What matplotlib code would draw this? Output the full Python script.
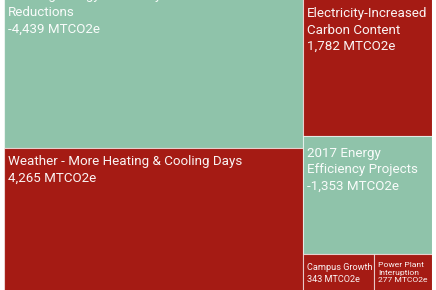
import matplotlib.pyplot as plt
from matplotlib.patches import Rectangle

plt.rcParams['font.family'] = ['Roboto', 'DejaVu Sans']

# === DATOS ===
labels = [
    "Building Energy Efficiency\nReductions",
    "Weather - More Heating & Cooling Days",
    "Electricity-Increased\nCarbon Content",
    "2017 Energy\nEfficiency Projects",
    "Campus Growth",
    "Power Plant\nInteruption",
]
values = [-4439, 4265, 1782, -1353, 343, 277]
# columnas del treemap (indices), la ultima fila de la derecha va en horizontal
columns = [[0, 1], [2, 3, (4, 5)]]

GREEN = "#8fc3aa"
RED = "#a51b14"

# estilo de cada etiqueta: tamano (pt), desplazamiento (px) desde la esquina
font_sizes = [9.6, 9.6, 9.6, 9.6, 6.6, 6.1]
offsets = [(3.5, -8.5), (4, -7.5), (4, -26), (3.5, -10.5), (3.5, -8.5), (4, -8)]
line_sp = [1.36, 1.36, 1.36, 1.36, 1.45, 1.3]


def weight(item):
    if isinstance(item, tuple):
        return sum(abs(values[i]) for i in item)
    return abs(values[item])


total = sum(abs(v) for v in values)
rects = {}
x0 = 0.0
for col in columns:
    wcol = sum(weight(it) for it in col) / total
    y0 = 0.0
    for it in col:
        h = weight(it) / total / wcol
        if isinstance(it, tuple):
            xx = x0
            for i in it:
                w = abs(values[i]) / weight(it) * wcol
                rects[i] = (xx, y0, w, h)
                xx += w
        else:
            rects[it] = (x0, y0, wcol, h)
        y0 += h
    x0 += wcol

fig = plt.figure(figsize=(4.36, 2.90), dpi=100)
ax = fig.add_axes([4 / 436, -18 / 290, 428 / 436, 327 / 290])
ax.set_xlim(0, 1)
ax.set_ylim(1, 0)
ax.axis("off")

for i, (x, y, w, h) in rects.items():
    color = GREEN if values[i] < 0 else RED
    ax.add_patch(Rectangle((x, y), w, h, facecolor=color,
                           edgecolor=(1, 1, 1, 0.6), linewidth=0.8))
    text = f"{labels[i]}\n{values[i]:,} MTCO2e"
    ax.annotate(text, xy=(x, y), xytext=offsets[i], textcoords="offset pixels",
                ha="left", va="top", fontsize=font_sizes[i], color="white",
                alpha=0.95, linespacing=line_sp[i], annotation_clip=False)

fig.savefig("out.png", dpi=100)
